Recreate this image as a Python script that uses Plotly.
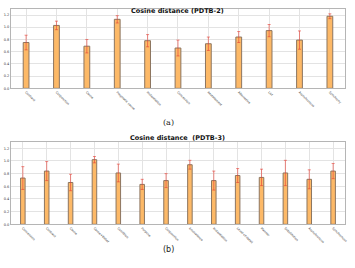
import plotly.graph_objects as go

cats2 = ["Contrast", "Conjunction", "Cause", "Pragmatic cause", "Instantiation",
         "Concession", "Restatement", "Alternative", "List", "Asynchronous", "Synchrony"]
vals2 = [0.75, 1.03, 0.69, 1.13, 0.78, 0.66, 0.73, 0.84, 0.945, 0.79, 1.18]
err2 = [0.12, 0.07, 0.11, 0.06, 0.10, 0.13, 0.11, 0.09, 0.10, 0.15, 0.04]

cats3 = ["Concession", "Contrast", "Cause", "Cause+Belief", "Condition", "Purpose",
         "Conjunction", "Equivalence", "Instantiation", "Level-of-detail", "Manner",
         "Substitution", "Asynchronous", "Synchronous"]
vals3 = [0.73, 0.84, 0.66, 1.02, 0.81, 0.63, 0.69, 0.94, 0.69, 0.77, 0.74, 0.81, 0.71, 0.84]
err3 = [0.18, 0.15, 0.13, 0.05, 0.14, 0.08, 0.11, 0.07, 0.15, 0.11, 0.13, 0.20, 0.15, 0.12]

yticks = [0.0, 0.2, 0.4, 0.6, 0.8, 1.0, 1.2]

W, H = 355, 268
fig = go.Figure()

def add(cats, vals, errs, xa, ya):
    fig.add_trace(go.Bar(
        x=cats, y=vals, width=0.19, xaxis=xa, yaxis=ya,
        marker=dict(color="#fdb967", line=dict(color="#8c7560", width=1)),
        error_y=dict(type="data", array=errs, color="rgba(230,60,50,0.6)",
                     thickness=1, width=1.5),
        showlegend=False,
    ))

add(cats2, vals2, err2, "x", "y")
add(cats3, vals3, err3, "x2", "y2")

axcommon = dict(showgrid=True, gridcolor="#e3e3e3", gridwidth=1,
                showline=True, linecolor="#b5b5b5", linewidth=1, mirror=True,
                ticks="", zeroline=False)

xd = [11 / W, 348 / W]
fig.update_layout(
    width=W, height=H, margin=dict(l=0, r=0, t=0, b=0),
    plot_bgcolor="white", paper_bgcolor="white",
    font=dict(family="DejaVu Sans", color="#333"),
    xaxis=dict(domain=xd, anchor="y", tickangle=45, tickfont=dict(size=3),
               **axcommon),
    yaxis=dict(domain=[1 - 89 / H, 1 - 9 / H], anchor="x", range=[0, 1.3],
               tickvals=yticks, ticktext=[f"{v:.1f}" for v in yticks],
               tickfont=dict(size=3.5), **axcommon),
    xaxis2=dict(domain=xd, anchor="y2", tickangle=45, tickfont=dict(size=3),
                **axcommon),
    yaxis2=dict(domain=[1 - 226 / H, 1 - 143 / H], anchor="x2", range=[0, 1.3],
                tickvals=yticks, ticktext=[f"{v:.1f}" for v in yticks],
                tickfont=dict(size=3.5), **axcommon),
    annotations=[
        dict(text="<b>Cosine distance (PDTB-2)</b>", x=179 / W, y=1 - 5 / H,
             xref="paper", yref="paper", showarrow=False, font=dict(size=6.5, color="#111")),
        dict(text="<b>Cosine distance  (PDTB-3)</b>", x=179 / W, y=1 - 139 / H,
             xref="paper", yref="paper", showarrow=False, font=dict(size=6.5, color="#111")),
        dict(text="(a)", x=170 / W, y=1 - 123 / H, xref="paper", yref="paper",
             showarrow=False, font=dict(size=8, color="#222", family="DejaVu Serif")),
        dict(text="(b)", x=170 / W, y=1 - 258 / H, xref="paper", yref="paper",
             showarrow=False, font=dict(size=8, color="#222")),
    ],
)

fig.write_html("out.html", config={"displayModeBar": False},
               post_script="document.body.style.margin='0';")
